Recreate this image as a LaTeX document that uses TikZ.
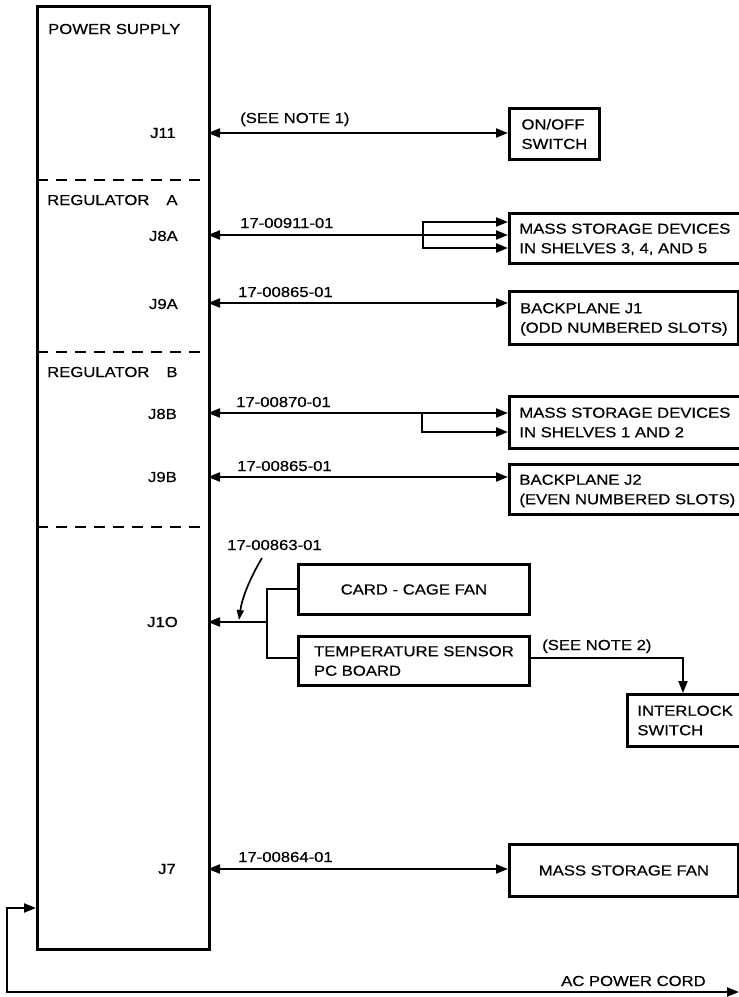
\documentclass[tikz,border=0pt]{standalone}
\usepackage{fontspec}
\setmainfont[FakeStretch=1.15,FakeBold=0.5]{Liberation Sans}
\usetikzlibrary{arrows.meta}
\begin{document}
\begin{tikzpicture}[x=1pt,y=-1pt,
  every node/.style={font=\fontsize{14.5}{19.5}\selectfont, inner sep=0pt},
  psbox/.style={draw, line width=3pt, anchor=north west},
  tbox/.style={draw, line width=2.8pt, anchor=north west, align=left, inner xsep=10pt, text depth=0pt},
  wire/.style={line width=2.2pt},
  tip/.style={-{Triangle[length=12pt,width=9pt]}},
  tips/.style={{Triangle[length=12pt,width=9pt]}-{Triangle[length=12pt,width=9pt]}},
  rtip/.style={{Triangle[length=12pt,width=9pt]}-},
  divider/.style={line width=2.6pt, dash pattern=on 11pt off 8pt},
  lbl/.style={anchor=base west},
  jlbl/.style={anchor=east}]
\useasboundingbox (0,0) rectangle (739,997);

% main power supply box
\node[psbox, minimum width=172pt, minimum height=943pt] (ps) at (36,5) {};
\draw[divider] (37,180) -- (207,180);
\draw[divider] (37,352) -- (207,352);
\draw[divider] (37,527) -- (207,527);

\node[lbl] (tps) at (48,34) {POWER SUPPLY};
\node[lbl] (tra) at (47,205) {REGULATOR\hspace{17pt}A};
\node[lbl] (trb) at (47,377) {REGULATOR\hspace{17pt}B};

\node[jlbl] (lj11) at (176,133) {J11};
\node[jlbl] (lj8a) at (178,236) {J8A};
\node[jlbl] (lj9a) at (178,304) {J9A};
\node[jlbl] (lj8b) at (177,414) {J8B};
\node[jlbl] (lj9b) at (177,477) {J9B};
\node[jlbl] (lj10) at (178,622) {J1O};
\node[jlbl] (lj7)  at (176,869) {J7};

% jack points on the box edge
\coordinate (j11) at (208,133);
\coordinate (j8a) at (208,235);
\coordinate (j9a) at (208,303);
\coordinate (j8b) at (208,413);
\coordinate (j9b) at (208,477);
\coordinate (j10) at (208,622);
\coordinate (j7)  at (208,869);
\coordinate (acin) at (36,908);

% target boxes
\node[tbox, minimum width=90pt, minimum height=51pt] (onoff) at (508,107) {ON/OFF\\SWITCH};
\node[tbox, minimum width=229pt, minimum height=50pt] (ms345) at (508,212) {MASS STORAGE DEVICES\\IN SHELVES 3, 4, AND 5};
\node[tbox, minimum width=229pt, minimum height=53pt] (bp1) at (508,290) {BACKPLANE J1\\(ODD NUMBERED SLOTS)};
\node[tbox, minimum width=229pt, minimum height=52pt] (ms12) at (508,395) {MASS STORAGE DEVICES\\IN SHELVES 1 AND 2};
\node[tbox, minimum width=229pt, minimum height=50pt] (bp2) at (508,463) {BACKPLANE J2\\(EVEN NUMBERED SLOTS)};
\node[tbox, minimum width=231pt, minimum height=50pt, align=center] (ccfan) at (297,563) {CARD - CAGE FAN};
\node[tbox, minimum width=231pt, minimum height=49pt, inner xsep=12pt] (temp) at (297,635) {TEMPERATURE SENSOR\\PC BOARD};
\node[tbox, minimum width=113pt, minimum height=52pt] (ilock) at (626,693) {INTERLOCK\\SWITCH};
\node[tbox, minimum width=229pt, minimum height=52pt, align=center] (msfan) at (508,843) {MASS STORAGE FAN};

% connectors
\draw[wire, tips] (j11) -- (j11 -| onoff.west);
\node[lbl] (n1) at (240,123) {(SEE NOTE 1)};

\coordinate (s8a) at (423,235);
\draw[wire, rtip] (j8a) -- (s8a);
\draw[wire, tip] (s8a) -- (s8a -| ms345.west);
\draw[wire, tip] (s8a) |- (ms345.west |- 0,222);
\draw[wire, tip] (s8a) |- (ms345.west |- 0,248);
\node[lbl] (c8a) at (240,228) {17-00911-01};

\draw[wire, tips] (j9a) -- (j9a -| bp1.west);
\node[lbl] (c9a) at (238,297) {17-00865-01};

\coordinate (s8b) at (422,413);
\draw[wire, rtip] (j8b) -- (s8b);
\draw[wire, tip] (s8b) -- (s8b -| ms12.west);
\draw[wire, tip] (s8b) |- (ms12.west |- 0,432);
\node[lbl] (c8b) at (236,407) {17-00870-01};

\draw[wire, tips] (j9b) -- (j9b -| bp2.west);
\node[lbl] (c9b) at (237,471) {17-00865-01};

\coordinate (s10) at (267,622);
\draw[wire, rtip] (j10) -- (s10);
\draw[wire] (s10) |- (ccfan.west |- 0,589);
\draw[wire] (s10) |- (temp.west |- 0,658);
\node[lbl] (c10) at (227,550) {17-00863-01};
\coordinate (ldr) at (262,558);
\coordinate (ldrend) at (239,620);
\draw[wire, line width=1.7pt, -{Triangle[length=10pt,width=7pt]}] (ldr) .. controls (250,578) and (242,598) .. (ldrend);

\coordinate (tnote) at (683,658);
\draw[wire, tip] (temp.east |- tnote) -- (tnote) -- (tnote |- ilock.north);
\node[lbl] (n2) at (542,650) {(SEE NOTE 2)};

\draw[wire, tips] (j7) -- (j7 -| msfan.west);
\node[lbl] (c7) at (238,862) {17-00864-01};

\coordinate (acout) at (739,992);
\draw[wire, tips] (acin) -- (7,908) -- (7,992) -- (acout);
\node[lbl] (acl) at (561,986) {AC POWER CORD};
\end{tikzpicture}
\end{document}
